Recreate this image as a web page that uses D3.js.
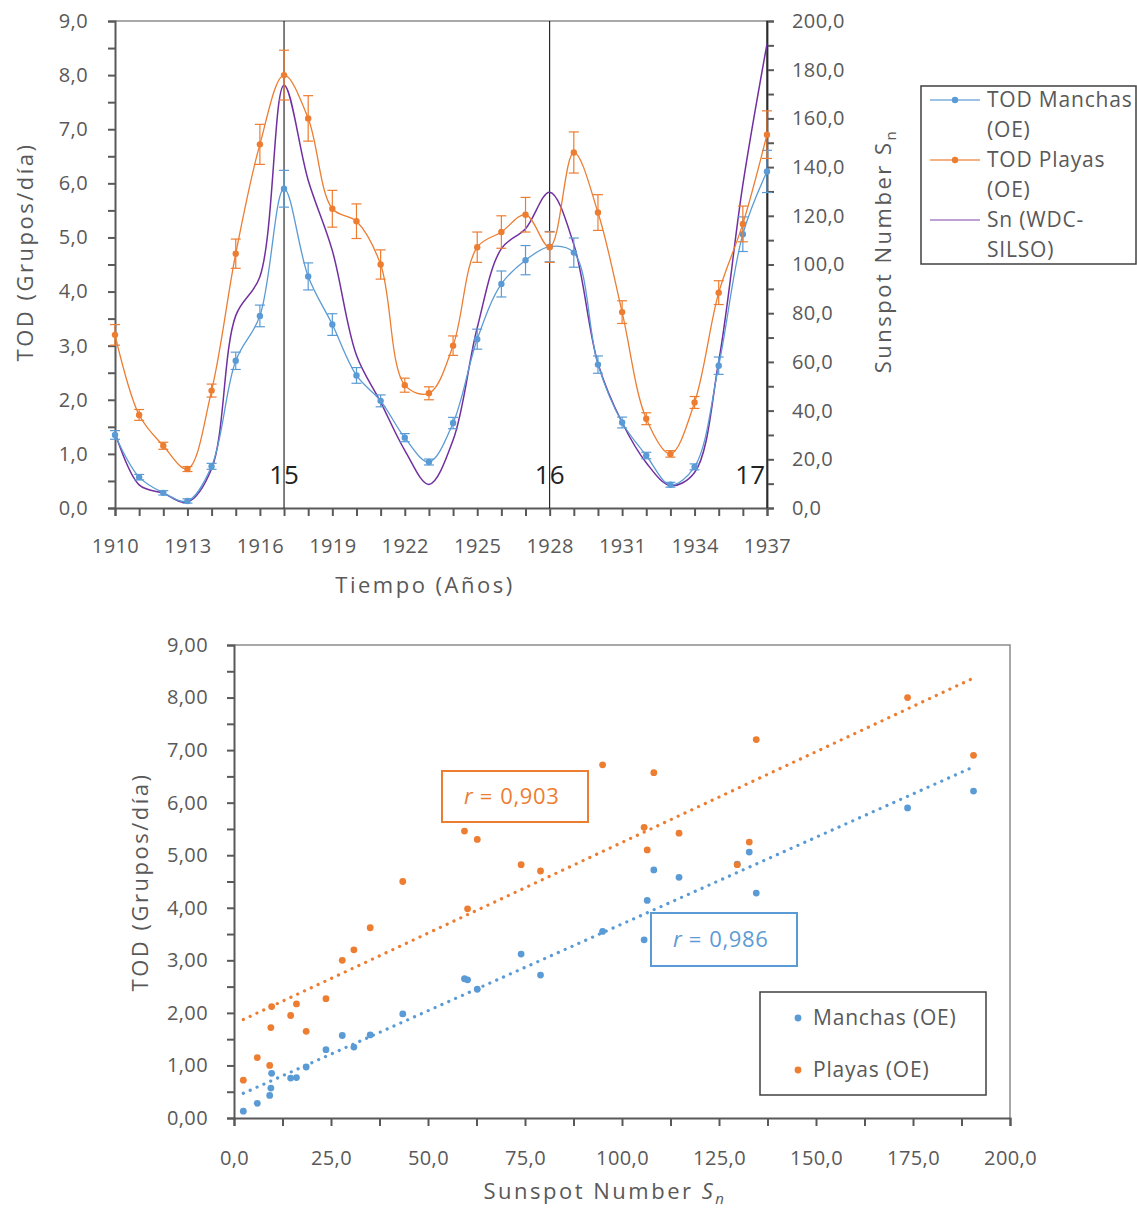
<!DOCTYPE html>
<html>
<head>
<meta charset="utf-8">
<script src="https://cdn.jsdelivr.net/npm/d3@7/dist/d3.min.js"></script>
<style>
  body { margin: 0; background: #fff; }
  svg text { font-family: "Open Sans", sans-serif; fill: #595959; }
</style>
</head>
<body>
<div id="chart"></div>
<script>
// --- data ---
const years = [1910, 1911, 1912, 1913, 1914, 1915, 1916, 1917, 1918, 1919,
               1920, 1921, 1922, 1923, 1924, 1925, 1926, 1927, 1928, 1929,
               1930, 1931, 1932, 1933, 1934, 1935, 1936, 1937];
const manchas = [1.35, 0.57, 0.28, 0.13, 0.77, 2.72, 3.55, 5.90, 4.28, 3.39,
                 2.45, 1.98, 1.30, 0.85, 1.57, 3.12, 4.14, 4.58, 4.83, 4.72,
                 2.65, 1.58, 0.97, 0.43, 0.76, 2.63, 5.06, 6.22];
const manchasErr = [0.08, 0.05, 0.04, 0.04, 0.055, 0.16, 0.20, 0.34, 0.25, 0.20,
                    0.145, 0.11, 0.075, 0.055, 0.105, 0.185, 0.24, 0.27, 0.28, 0.27,
                    0.16, 0.10, 0.06, 0.045, 0.055, 0.16, 0.32, 0.39];
const playas = [3.20, 1.72, 1.15, 0.72, 2.17, 4.70, 6.72, 8.00, 7.20, 5.53,
                5.30, 4.50, 2.27, 2.12, 3.00, 4.82, 5.10, 5.42, 4.82, 6.57,
                5.46, 3.62, 1.65, 1.00, 1.95, 3.98, 5.25, 6.90];
const playasErr = [0.19, 0.10, 0.065, 0.046, 0.12, 0.27, 0.37, 0.46, 0.42, 0.34,
                   0.32, 0.27, 0.13, 0.12, 0.18, 0.28, 0.30, 0.32, 0.28, 0.38,
                   0.33, 0.21, 0.11, 0.06, 0.11, 0.22, 0.33, 0.44];
const sunspots = [30.9, 9.5, 6.0, 2.4, 16.1, 79.0, 95.0, 173.6, 134.6, 105.7,
                  62.7, 43.5, 23.7, 9.7, 27.9, 74.0, 106.5, 114.7, 129.7, 108.2,
                  59.4, 35.1, 18.6, 9.2, 14.6, 60.2, 132.8, 190.6];
const cycleYears = [1917, 1928, 1937];
const cycleLabels = ["15", "16", "17"];
const yearLabels = [1910, 1913, 1916, 1919, 1922, 1925, 1928, 1931, 1934, 1937];
const legendTop = ["TOD Manchas", "(OE)", "TOD Playas", "(OE)", "Sn (WDC-", "SILSO)"];
const legendBottom = ["Manchas (OE)", "Playas (OE)"];
const rLabels = ["0,903", "0,986"];

const blue = "#5B9BD5", orange = "#ED7D31", purple = "#7030A0";
const axisCol = "#595959", frameCol = "#8c8c8c";

const es = d3.formatLocale({ decimal: ",", thousands: ".", grouping: [3], currency: ["", "€"] });
const f1 = es.format(".1f"), f2 = es.format(".2f");

const svg = d3.select("#chart").append("svg")
    .attr("width", 1137)
    .attr("height", 1208);

function styleAxis(g) {
    g.select(".domain").attr("stroke", axisCol).attr("stroke-width", 2);
    g.selectAll(".tick line").attr("stroke", axisCol).attr("stroke-width", 2);
    g.selectAll(".tick text").attr("fill", axisCol).style("font-size", "20px").style("letter-spacing", "0.4px");
}

function title(g, tx, ty, rot) {
    return g.append("text")
        .attr("transform", `translate(${tx},${ty})` + (rot ? " rotate(-90)" : ""))
        .attr("text-anchor", "middle").attr("dy", "0.35em")
        .style("font-size", "22px").style("letter-spacing", "2.5px");
}

// ================= top chart: time series =================
const x1 = d3.scaleLinear().domain([1910, 1937]).range([115, 767]);
const y1 = d3.scaleLinear().domain([0, 9]).range([508, 21]);
const y1r = d3.scaleLinear().domain([0, 200]).range([508, 21]);

const topG = svg.append("g");

// frame top line
topG.append("line")
    .attr("x1", x1(1910)).attr("x2", x1(1937))
    .attr("y1", y1(9)).attr("y2", y1(9))
    .attr("stroke", frameCol).attr("stroke-width", 1.5);

topG.append("g")
    .attr("transform", `translate(${x1(1910)},0)`)
    .call(d3.axisLeft(y1).tickValues(d3.range(0, 9.01, 0.5)).tickSize(7).tickPadding(20)
        .tickFormat(d => Number.isInteger(d) ? f1(d) : ""))
    .call(styleAxis);

topG.append("g")
    .attr("transform", `translate(${x1(1937)},0)`)
    .call(d3.axisRight(y1r).tickValues(d3.range(0, 201, 10)).tickSize(7).tickPadding(18)
        .tickFormat(d => d % 20 === 0 ? f1(d) : ""))
    .call(styleAxis);

topG.append("g")
    .attr("transform", `translate(0,${y1(0)})`)
    .call(d3.axisBottom(x1).tickValues(years).tickSize(8).tickPadding(23)
        .tickFormat(d => yearLabels.includes(d) ? d : ""))
    .call(styleAxis);

// cycle maxima lines
topG.selectAll(".cyc").data(cycleYears).enter().append("line")
    .attr("x1", d => x1(d)).attr("x2", d => x1(d))
    .attr("y1", y1(9)).attr("y2", y1(0))
    .attr("stroke", "#000").attr("stroke-width", 1);
topG.selectAll(".cycl").data(cycleYears).enter().append("text")
    .attr("x", (d, i) => i === 2 ? x1(d) - 2 : x1(d))
    .attr("y", 484)
    .attr("text-anchor", (d, i) => i === 2 ? "end" : "middle")
    .style("font-size", "26px")
    .style("fill", "#222")
    .text((d, i) => cycleLabels[i]);

const smooth = d3.curveCatmullRom.alpha(0.5);

// Sn curve
topG.append("path")
    .datum(sunspots)
    .attr("fill", "none").attr("stroke", purple).attr("stroke-width", 1.5)
    .attr("d", d3.line().x((d, i) => x1(years[i])).y(d => y1r(d)).curve(smooth));

function drawSeries(vals, errs, col) {
    const g = topG.append("g");
    g.append("path")
        .datum(vals)
        .attr("fill", "none").attr("stroke", col).attr("stroke-width", 1.3)
        .attr("d", d3.line().x((d, i) => x1(years[i])).y(d => y1(d)).curve(smooth));
    const eb = g.selectAll(".eb").data(vals).enter().append("g")
        .attr("stroke", col).attr("stroke-width", 1.2);
    eb.append("line")
        .attr("x1", (d, i) => x1(years[i])).attr("x2", (d, i) => x1(years[i]))
        .attr("y1", (d, i) => y1(d - errs[i])).attr("y2", (d, i) => y1(d + errs[i]));
    eb.append("line")
        .attr("x1", (d, i) => x1(years[i]) - 5).attr("x2", (d, i) => x1(years[i]) + 5)
        .attr("y1", (d, i) => y1(d - errs[i])).attr("y2", (d, i) => y1(d - errs[i]));
    eb.append("line")
        .attr("x1", (d, i) => x1(years[i]) - 5).attr("x2", (d, i) => x1(years[i]) + 5)
        .attr("y1", (d, i) => y1(d + errs[i])).attr("y2", (d, i) => y1(d + errs[i]));
    g.selectAll("circle").data(vals).enter().append("circle")
        .attr("cx", (d, i) => x1(years[i])).attr("cy", d => y1(d))
        .attr("r", 3.2).attr("fill", col);
}
drawSeries(manchas, manchasErr, blue);
drawSeries(playas, playasErr, orange);

// axis titles
title(topG, 25, 252, true).text("TOD (Grupos/día)");
const rt = title(topG, 883, 251, true);
rt.append("tspan").text("Sunspot Number S");
rt.append("tspan").attr("dy", 5).style("font-size", "15px").text("n");
title(topG, 425, 585, false).text("Tiempo (Años)");

// legend
const lg = topG.append("g");
lg.append("rect")
    .attr("x", 921).attr("y", 86).attr("width", 215).attr("height", 178)
    .attr("fill", "#fff").attr("stroke", "#404040").attr("stroke-width", 1.5);
const legCols = [blue, orange, purple];
legCols.forEach((c, k) => {
    const yy = 100 + k * 60;
    lg.append("line").attr("x1", 930).attr("x2", 980).attr("y1", yy).attr("y2", yy)
        .attr("stroke", c).attr("stroke-width", 1.5).attr("stroke-opacity", k === 2 ? 0.6 : 0.8);
    if (k < 2) lg.append("circle").attr("cx", 955).attr("cy", yy).attr("r", 3.2).attr("fill", c);
});
lg.selectAll("text").data(legendTop).enter().append("text")
    .attr("x", 987).attr("y", (d, i) => 100 + i * 30)
    .attr("dy", "0.35em")
    .style("font-size", "21px").style("letter-spacing", "0.8px")
    .text(d => d);

// ================= bottom chart: scatter =================
const x2 = d3.scaleLinear().domain([0, 200]).range([234, 1010]);
const y2 = d3.scaleLinear().domain([0, 9]).range([1118, 645]);
const botG = svg.append("g");

botG.append("path")
    .attr("d", `M${x2(0)},${y2(9)}H${x2(200)}V${y2(0)}`)
    .attr("fill", "none").attr("stroke", frameCol).attr("stroke-width", 1.5);

botG.append("g")
    .attr("transform", `translate(${x2(0)},0)`)
    .call(d3.axisLeft(y2).tickValues(d3.range(0, 9.01, 0.5)).tickSize(7).tickPadding(19)
        .tickFormat(d => Number.isInteger(d) ? f2(d) : ""))
    .call(styleAxis);
botG.append("g")
    .attr("transform", `translate(0,${y2(0)})`)
    .call(d3.axisBottom(x2).tickValues(d3.range(0, 201, 12.5)).tickSize(8).tickPadding(25)
        .tickFormat(d => d % 25 === 0 ? f1(d) : ""))
    .call(styleAxis);

function fit(xs, ys) {
    const mx = d3.mean(xs), my = d3.mean(ys);
    const b = d3.sum(xs, (v, i) => (v - mx) * (ys[i] - my)) / d3.sum(xs, v => (v - mx) ** 2);
    return { a: my - b * mx, b };
}
const xmin = d3.min(sunspots), xmax = d3.max(sunspots);
[[manchas, blue], [playas, orange]].forEach(([vals, col]) => {
    const f = fit(sunspots, vals);
    botG.append("line")
        .attr("x1", x2(xmin)).attr("y1", y2(f.a + f.b * xmin))
        .attr("x2", x2(xmax)).attr("y2", y2(f.a + f.b * xmax))
        .attr("stroke", col).attr("stroke-width", 3.2)
        .attr("stroke-linecap", "round").attr("stroke-dasharray", "0.1 7.4");
});
[[manchas, blue], [playas, orange]].forEach(([vals, col]) => {
    botG.append("g").selectAll("circle").data(vals).enter().append("circle")
        .attr("cx", (d, i) => x2(sunspots[i])).attr("cy", d => y2(d))
        .attr("r", 3.4).attr("fill", col);
});

// r labels
const rBoxes = [
    { x: 442, y: 771, w: 146, h: 51, col: orange, t: rLabels[0] },
    { x: 651, y: 913, w: 146, h: 53, col: blue, t: rLabels[1] }
];
rBoxes.forEach(b => {
    botG.append("rect").attr("x", b.x).attr("y", b.y).attr("width", b.w).attr("height", b.h)
        .attr("fill", "#fff").attr("stroke", b.col).attr("stroke-width", 2);
    const t = botG.append("text").attr("x", b.x + 22).attr("y", b.y + b.h / 2)
        .attr("dy", "0.35em")
        .style("font-size", "22px").style("fill", b.col);
    t.append("tspan").style("font-style", "italic").style("fill", b.col).text("r");
    t.append("tspan").attr("dx", 7).style("fill", b.col).text("=");
    t.append("tspan").attr("dx", 8).style("fill", b.col).style("letter-spacing", "0.6px").text(b.t);
});

// legend
botG.append("rect").attr("x", 760).attr("y", 992).attr("width", 226).attr("height", 103)
    .attr("fill", "#fff").attr("stroke", "#404040").attr("stroke-width", 1.5);
[blue, orange].forEach((c, k) => {
    botG.append("circle").attr("cx", 798).attr("cy", 1018 + k * 52).attr("r", 3.4).attr("fill", c);
    botG.append("text").attr("x", 813).attr("y", 1018 + k * 52).attr("dy", "0.35em")
        .style("font-size", "21px").style("letter-spacing", "0.8px")
        .text(legendBottom[k]);
});

// axis titles
title(botG, 140, 882, true).text("TOD (Grupos/día)");
const bt = title(botG, 605, 1191, false);
bt.append("tspan").text("Sunspot Number ");
bt.append("tspan").style("font-style", "italic").text("S");
bt.append("tspan").attr("dy", 5).style("font-size", "15px").style("font-style", "italic").text("n");
</script>
</body>
</html>
